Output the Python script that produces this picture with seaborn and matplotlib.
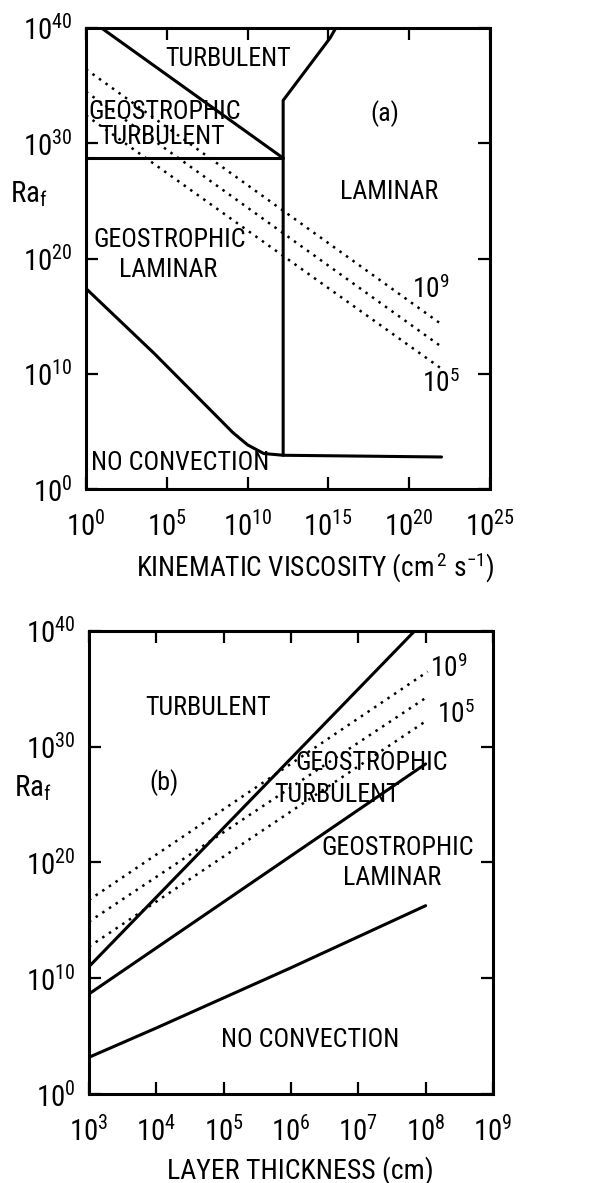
import numpy as np
import pandas as pd
import matplotlib
matplotlib.use("Agg")
import matplotlib.pyplot as plt
import seaborn as sns
from matplotlib import font_manager
from matplotlib.font_manager import FontProperties
from matplotlib.textpath import TextPath
from matplotlib.ticker import NullLocator

# ---------- panel (a): Ra_f against kinematic viscosity (log10 values) ----------
visc_turb_x = [0.93, 12.2]
visc_turb_y = [40.0, 28.7]
visc_geo_x = [0.0, 12.2]
visc_geo_y = [28.7, 28.7]
visc_lam_x = [12.2, 12.2, 15.1, 15.47]
visc_lam_y = [2.95, 33.7, 39.1, 40.0]
visc_onset_x = [0.0, 4.2, 9.1, 10.0, 11.0, 12.2, 22.0]
visc_onset_y = [17.4, 11.8, 4.9, 3.85, 3.1, 2.95, 2.8]
visc_dot_x = [0.0, 21.9]
visc_dot_hi_y = [36.4, 14.4]
visc_dot_mid_y = [34.45, 12.45]
visc_dot_lo_y = [32.4, 10.55]

# ---------- panel (b): Ra_f against layer thickness (log10 values) ----------
thick_turb_x = [3.0, 7.84]
thick_turb_y = [11.0, 40.0]
thick_geo_x = [3.0, 8.0]
thick_geo_y = [8.64, 28.5]
thick_onset_x = [3.0, 4.0, 6.0, 8.0]
thick_onset_y = [3.17, 5.7, 10.9, 16.26]
thick_dot_x = [3.0, 8.03]
thick_dot_hi_y = [16.75, 36.47]
thick_dot_mid_y = [14.88, 34.31]
thick_dot_lo_y = [12.72, 32.3]

visc_ticks = [0, 5, 10, 15, 20, 25]
thick_ticks = [3, 4, 5, 6, 7, 8, 9]
ra_ticks = [0, 10, 20, 30, 40]

sns.set_theme(style="ticks")


def pick_font():
    """Prefer a narrow sans face; fall back to Liberation Sans."""
    cond = ("condensed", "semi-condensed", "extra-condensed", "ultra-condensed")
    found = {}
    for f in font_manager.fontManager.ttflist:
        narrow = ("Narrow" in f.name or "Condensed" in f.name
                  or str(f.stretch) in cond)
        w = f.weight
        regular = (w in (400, "normal", "regular", "book"))
        if narrow and regular and f.style == "normal":
            found.setdefault(f.name, f)
    for name in ("Liberation Sans Narrow", "Roboto Condensed", "Noto Sans",
                 "Noto Sans Condensed", "DejaVu Sans", "DejaVu Sans Condensed",
                 "Open Sans", "Open Sans Condensed"):
        if name in found:
            st = str(found[name].stretch)
            return name, (st if st in cond else "normal")
    return "Liberation Sans", "normal"


FONT, STRETCH = pick_font()
plt.rcParams["font.family"] = [FONT, "DejaVu Sans"]
plt.rcParams["font.stretch"] = STRETCH
plt.rcParams["text.color"] = "black"
plt.rcParams["axes.labelcolor"] = "black"

# scale font sizes so the region labels keep their printed width
_tp = TextPath((0, 0), "TURBULENT", size=18,
               prop=FontProperties(family=[FONT], stretch=STRETCH))
SC = 124.0 / (_tp.get_extents().width * 100 / 72)

LW = 2.2
DOT = (0, (1, 2.2))


def draw(ax, xs, ys, dotted=False):
    df = pd.DataFrame({"x": np.power(10.0, xs), "y": np.power(10.0, ys)})
    sns.lineplot(data=df, x="x", y="y", ax=ax, color="black", sort=False,
                 estimator=None, legend=False,
                 lw=1.8 if dotted else LW,
                 linestyle=DOT if dotted else "-")


def label(ax, x, y, s, size=18, **kw):
    kw.setdefault("ha", "center")
    kw.setdefault("va", "center")
    ax.text(10.0 ** x, 10.0 ** y, s, fontsize=size * SC, color="black", **kw)


def style_axes(ax, xt, xlim):
    ax.set_xscale("log")
    ax.set_yscale("log")
    ax.set_xlim(10.0 ** xlim[0], 10.0 ** xlim[1])
    ax.set_ylim(1.0, 1e40)
    ax.set_xticks([10.0 ** k for k in xt])
    ax.set_xticklabels([r"$\mathregular{10^{%d}}$" % k for k in xt])
    ax.set_yticks([10.0 ** k for k in ra_ticks])
    ax.set_yticklabels([r"$\mathregular{10^{%d}}$" % k for k in ra_ticks])
    ax.xaxis.set_minor_locator(NullLocator())
    ax.yaxis.set_minor_locator(NullLocator())
    ax.tick_params(which="major", direction="in", length=8.5, width=1.6,
                   top=True, right=True, labelsize=20 * SC, colors="black")
    ax.tick_params(axis="x", pad=16)
    ax.tick_params(axis="y", pad=10)
    for sp in ax.spines.values():
        sp.set_linewidth(LW)
        sp.set_color("black")
        sp.set_visible(True)
    ax.set_facecolor("white")


fig = plt.figure(figsize=(6.1, 11.83), dpi=100)
fig.patch.set_facecolor("white")
ax1 = fig.add_axes([86 / 610, 1 - 489.3 / 1183, 404 / 610, 461.6 / 1183])
ax2 = fig.add_axes([89 / 610, 1 - 1094 / 1183, 404 / 610, 463.3 / 1183])

# ---- (a) ----
style_axes(ax1, visc_ticks, (0, 25))
draw(ax1, visc_turb_x, visc_turb_y)
draw(ax1, visc_geo_x, visc_geo_y)
draw(ax1, visc_lam_x, visc_lam_y)
draw(ax1, visc_onset_x, visc_onset_y)
for yy in (visc_dot_hi_y, visc_dot_mid_y, visc_dot_lo_y):
    draw(ax1, visc_dot_x, yy, dotted=True)

label(ax1, 8.79, 37.3, "TURBULENT")
label(ax1, 4.89, 32.7, "GEOSTROPHIC")
label(ax1, 4.70, 30.5, "TURBULENT")
label(ax1, 18.5, 32.6, "(a)")
label(ax1, 18.75, 25.8, "LAMINAR")
label(ax1, 5.2, 21.6, "GEOSTROPHIC")
label(ax1, 5.07, 19.0, "LAMINAR")
label(ax1, 5.82, 2.28, "NO CONVECTION")
label(ax1, 20.2, 16.6, r"$\mathregular{10^{9}}$", size=19, ha="left", va="baseline")
label(ax1, 20.8, 8.46, r"$\mathregular{10^{5}}$", size=19, ha="left", va="baseline")

ax1.set_xlabel(r"KINEMATIC VISCOSITY (cm$\mathregular{^{\,2}}$ s$\mathregular{^{-1}}$)",
               fontsize=19 * SC)
ax1.xaxis.set_label_coords(0.567, -0.134)
ax1.set_ylabel(r"$\mathregular{Ra_f}$", rotation=0, fontsize=20 * SC,
               ha="center", va="center")
ax1.yaxis.set_label_coords(-0.141, 0.64)

# ---- (b) ----
style_axes(ax2, thick_ticks, (3, 9))
draw(ax2, thick_turb_x, thick_turb_y)
draw(ax2, thick_geo_x, thick_geo_y)
draw(ax2, thick_onset_x, thick_onset_y)
for yy in (thick_dot_hi_y, thick_dot_mid_y, thick_dot_lo_y):
    draw(ax2, thick_dot_x, yy, dotted=True)

label(ax2, 4.77, 33.3, "TURBULENT")
label(ax2, 4.11, 26.9, "(b)")
label(ax2, 7.2, 28.6, "GEOSTROPHIC")
label(ax2, 6.69, 25.8, "TURBULENT")
label(ax2, 7.58, 21.2, "GEOSTROPHIC")
label(ax2, 7.5, 18.65, "LAMINAR")
label(ax2, 6.28, 4.66, "NO CONVECTION")
label(ax2, 8.07, 35.98, r"$\mathregular{10^{9}}$", size=19, ha="left", va="baseline")
label(ax2, 8.17, 32.07, r"$\mathregular{10^{5}}$", size=19, ha="left", va="baseline")

ax2.set_xlabel("LAYER THICKNESS (cm)", fontsize=19.3 * SC)
ax2.xaxis.set_label_coords(0.522, -0.134)
ax2.set_ylabel(r"$\mathregular{Ra_f}$", rotation=0, fontsize=20 * SC,
               ha="center", va="center")
ax2.yaxis.set_label_coords(-0.139, 0.66)

fig.savefig("out.png", dpi=100, facecolor="white")
